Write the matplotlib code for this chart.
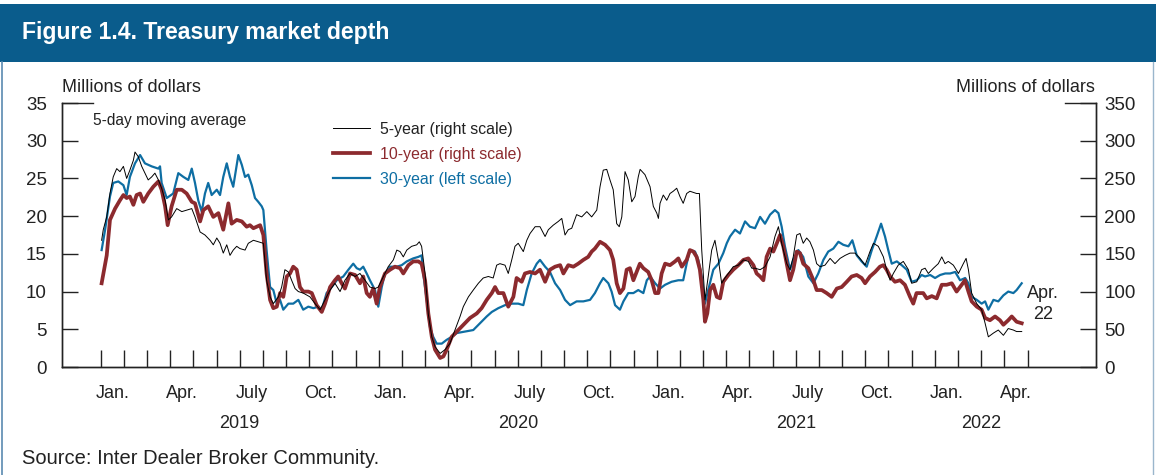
import matplotlib
matplotlib.use("Agg")
import matplotlib.pyplot as plt
from matplotlib.patches import Rectangle
from matplotlib.lines import Line2D
import matplotlib.transforms as mtransforms

# x values: months since 1 Jan 2019
# 5-year, millions of dollars (right scale)
y5 = [(0.04,168),(0.11,182),(0.26,199),(0.40,230),(0.54,252),(0.69,263),(0.83,259),(0.98,266),(1.12,250),(1.26,261),
      (1.41,274),(1.48,285),(1.62,279),(1.77,266),(1.91,257),(2.05,248),(2.20,252),(2.34,257),(2.49,248),(2.63,237),
      (2.78,221),(2.92,195),(3.06,199),(3.28,210),(3.50,206),(3.71,208),(3.93,210),(4.07,199),(4.29,179),(4.50,175),
      (4.72,168),(4.86,162),(5.01,171),(5.15,164),(5.29,151),(5.44,162),(5.58,148),(5.72,155),(5.87,160),(6.01,157),
      (6.23,155),(6.37,164),(6.59,168),(6.80,166),(7.02,164),(7.16,115),(7.31,93),(7.45,84),(7.67,93),(7.81,106),
      (7.95,129),(8.10,126),(8.24,115),(8.39,104),(8.53,100),(8.74,98),(9.03,93),(9.25,84),(9.47,76),(9.68,89),
      (9.90,102),(10.11,111),(10.33,100),(10.54,115),(10.76,124),(10.98,120),(11.19,124),(11.41,115),(11.62,106),(11.84,104),
      (11.98,106),(12.20,120),(12.41,133),(12.63,142),(12.78,155),(12.92,153),(13.06,146),(13.21,155),(13.42,160),(13.64,162),
      (13.75,166),(13.85,160),(14.00,124),(14.14,70),(14.29,40),(14.43,27),(14.65,18),(14.86,23),(15.07,31),(15.29,49),
      (15.51,67),(15.65,80),(15.87,93),(16.08,102),(16.30,111),(16.51,118),(16.73,120),(16.94,118),(17.09,135),(17.23,137),
      (17.45,135),(17.59,124),(17.74,142),(17.88,160),(18.02,164),(18.24,153),(18.39,168),(18.53,177),(18.75,186),(18.96,186),
      (19.18,173),(19.32,182),(19.53,188),(19.75,193),(19.90,197),(20.04,175),(20.18,182),(20.33,184),(20.54,202),(20.76,199),
      (20.98,206),(21.19,199),(21.41,208),(21.55,239),(21.69,261),(21.84,262),(21.98,248),(22.12,235),(22.27,190),(22.38,186),
      (22.49,199),(22.63,259),(22.77,248),(22.92,219),(23.06,226),(23.20,252),(23.28,262),(23.49,255),(23.71,239),(23.85,213),
      (24.00,204),(24.07,197),(24.14,217),(24.28,228),(24.43,221),(24.57,230),(24.71,233),(24.86,237),(25.00,226),(25.14,217),
      (25.29,230),(25.43,233),(25.72,230),(25.84,230),(25.94,155),(26.08,89),(26.22,120),(26.37,155),(26.51,168),(26.66,142),
      (26.80,111),(26.94,118),(27.09,124),(27.30,133),(27.52,135),(27.74,142),(27.95,140),(28.10,131),(28.24,131),(28.46,129),
      (28.67,133),(28.89,146),(29.10,173),(29.25,186),(29.39,164),(29.61,137),(29.75,129),(29.89,146),(30.04,175),(30.18,177),
      (30.32,164),(30.47,171),(30.61,166),(30.76,155),(30.90,137),(31.05,133),(31.26,135),(31.48,144),(31.69,137),(31.91,144),
      (32.13,148),(32.34,151),(32.56,151),(32.77,144),(32.99,135),(33.20,153),(33.35,164),(33.56,160),(33.78,146),(33.92,129),
      (34.07,115),(34.21,124),(34.42,135),(34.64,140),(34.86,129),(35.00,111),(35.22,113),(35.43,129),(35.58,131),(35.72,124),
      (35.94,131),(36.15,137),(36.30,146),(36.44,137),(36.58,140),(36.80,135),(37.02,124),(37.23,137),(37.35,144),(37.45,129),
      (37.59,98),(37.81,84),(38.02,76),(38.17,58),(38.31,40),(38.53,45),(38.74,49),(38.96,42),(39.17,51),(39.39,49),
      (39.53,47),(39.75,47)]

# 10-year, millions of dollars (right scale)
y10 = [(0.04,111),(0.26,148),(0.40,195),(0.62,210),(0.83,221),(0.98,228),(1.12,224),(1.26,226),(1.41,215),(1.55,228),
       (1.70,230),(1.84,219),(2.05,230),(2.27,239),(2.49,246),(2.63,235),(2.78,213),(2.89,188),(3.06,213),(3.28,235),
       (3.50,235),(3.71,230),(3.93,219),(4.07,217),(4.29,193),(4.43,208),(4.64,213),(4.86,199),(5.08,204),(5.29,182),
       (5.51,217),(5.65,190),(5.87,195),(6.09,193),(6.30,186),(6.44,188),(6.59,184),(6.73,186),(6.88,188),(7.02,175),
       (7.16,124),(7.31,89),(7.45,78),(7.60,80),(7.74,98),(7.88,93),(8.03,120),(8.17,124),(8.31,133),(8.46,129),
       (8.60,106),(8.74,100),(8.96,100),(9.11,98),(9.32,82),(9.54,73),(9.68,84),(9.90,106),(10.11,115),(10.25,120),
       (10.40,111),(10.54,104),(10.76,124),(10.98,122),(11.19,111),(11.33,120),(11.48,98),(11.62,93),(11.76,104),(11.91,84),
       (12.05,106),(12.27,124),(12.49,129),(12.70,133),(12.92,131),(13.06,124),(13.28,135),(13.49,140),(13.71,140),(13.85,137),
       (14.00,115),(14.14,71),(14.29,40),(14.43,23),(14.65,12),(14.79,14),(14.93,23),(15.15,40),(15.37,47),(15.65,56),
       (15.94,65),(16.23,71),(16.44,78),(16.66,89),(16.88,98),(17.02,106),(17.16,98),(17.38,98),(17.59,80),(17.81,93),
       (17.95,118),(18.17,113),(18.31,124),(18.53,126),(18.75,124),(18.96,129),(19.18,113),(19.39,129),(19.61,133),(19.83,135),
       (19.97,124),(20.18,135),(20.40,133),(20.61,137),(20.83,142),(21.04,146),(21.19,153),(21.33,157),(21.55,166),(21.77,162),
       (21.98,155),(22.12,142),(22.27,111),(22.41,98),(22.56,104),(22.70,129),(22.84,131),(22.99,115),(23.13,126),(23.27,137),
       (23.42,131),(23.63,126),(23.78,115),(23.93,98),(24.07,98),(24.21,124),(24.36,137),(24.57,135),(24.79,140),(24.93,144),
       (25.08,133),(25.29,142),(25.43,155),(25.58,153),(25.72,146),(25.86,129),(26.01,89),(26.08,60),(26.18,71),(26.30,102),
       (26.44,109),(26.59,93),(26.73,91),(26.87,113),(27.09,122),(27.30,129),(27.52,135),(27.74,142),(27.95,144),(28.17,135),
       (28.31,124),(28.46,120),(28.60,115),(28.74,146),(28.89,157),(29.03,153),(29.18,164),(29.32,175),(29.46,160),(29.61,137),
       (29.75,115),(29.89,129),(30.04,153),(30.18,151),(30.32,137),(30.54,131),(30.76,115),(30.90,102),(31.12,102),(31.33,98),
       (31.55,93),(31.77,104),(31.98,106),(32.20,113),(32.41,120),(32.63,122),(32.84,118),(32.99,111),(33.20,120),(33.42,126),
       (33.63,133),(33.78,135),(33.92,129),(34.07,120),(34.28,113),(34.50,115),(34.71,109),(34.93,93),(35.07,84),(35.21,98),
       (35.50,98),(35.65,91),(35.87,94),(36.08,91),(36.30,109),(36.51,109),(36.73,111),(36.94,100),(37.16,109),(37.30,115),
       (37.45,100),(37.59,87),(37.81,80),(38.02,76),(38.17,65),(38.38,62),(38.60,67),(38.81,62),(38.96,56),(39.17,62),
       (39.32,67),(39.53,60),(39.75,58)]

# 30-year, millions of dollars (left scale)
y30 = [(0.04,15.5),(0.19,18.2),(0.40,22.6),(0.54,24.4),(0.76,24.6),(0.98,24.1),(1.12,22.8),(1.26,25.2),(1.48,27.0),(1.70,28.1),
       (1.91,27.0),(2.20,26.6),(2.49,26.3),(2.56,26.6),(2.63,24.4),(2.85,22.4),(3.13,23.0),(3.35,25.7),(3.57,25.2),(3.78,24.8),
       (3.93,26.3),(4.07,24.4),(4.21,22.1),(4.36,20.6),(4.50,23.0),(4.64,24.4),(4.79,22.8),(5.01,23.5),(5.15,22.8),(5.29,25.2),
       (5.44,27.0),(5.58,25.2),(5.72,23.9),(5.94,28.1),(6.09,26.8),(6.23,25.2),(6.37,25.5),(6.52,24.1),(6.66,22.4),(6.80,21.9),
       (6.95,21.3),(7.02,20.8),(7.16,15.5),(7.31,10.6),(7.45,10.2),(7.60,8.4),(7.74,8.9),(7.88,7.6),(8.10,8.4),(8.31,8.4),
       (8.53,8.9),(8.74,7.6),(8.96,8.0),(9.18,7.8),(9.39,8.0),(9.54,7.6),(9.75,9.8),(9.97,10.6),(10.19,11.5),(10.47,12.0),
       (10.69,12.9),(10.90,13.7),(11.05,13.1),(11.19,12.9),(11.33,13.3),(11.48,12.4),(11.62,11.5),(11.84,10.2),(11.98,8.0),(12.13,10.6),
       (12.27,12.4),(12.49,13.3),(12.78,13.3),(12.99,13.5),(13.21,14.0),(13.49,14.4),(13.71,14.6),(13.85,14.8),(13.92,12.4),(14.07,8.9),
       (14.21,5.3),(14.35,4.0),(14.50,3.1),(14.72,3.1),(14.93,3.6),(15.15,4.0),(15.37,4.5),(15.72,4.7),(16.08,4.9),(16.37,5.8),
       (16.66,6.7),(16.88,7.3),(17.16,7.8),(17.45,8.2),(17.74,8.4),(18.02,8.4),(18.24,8.2),(18.39,10.2),(18.60,12.4),(18.82,13.7),
       (18.96,14.2),(19.18,13.3),(19.39,12.6),(19.61,11.1),(19.83,10.2),(20.04,8.9),(20.26,8.2),(20.54,8.7),(20.83,8.7),(21.12,8.9),
       (21.33,9.8),(21.55,11.1),(21.69,11.8),(21.91,11.1),(22.05,10.0),(22.20,8.2),(22.41,7.6),(22.56,8.7),(22.77,9.8),(22.99,9.8),
       (23.20,10.2),(23.42,9.8),(23.57,11.5),(23.71,12.0),(23.93,11.1),(24.14,10.4),(24.36,10.9),(24.64,11.3),(24.93,11.5),(25.14,11.5),
       (25.29,13.7),(25.43,15.5),(25.65,15.3),(25.79,14.2),(25.94,12.0),(26.08,8.4),(26.22,10.2),(26.44,12.9),(26.66,13.7),(26.87,15.1),
       (27.02,16.4),(27.16,17.3),(27.38,18.2),(27.59,17.7),(27.81,19.3),(28.02,18.6),(28.24,18.4),(28.46,19.9),(28.67,19.0),(28.89,20.2),
       (29.10,20.8),(29.25,20.4),(29.39,18.6),(29.53,16.0),(29.75,12.9),(29.89,14.2),(30.11,15.5),(30.32,14.6),(30.54,12.0),(30.76,11.1),
       (30.97,12.4),(31.19,14.2),(31.40,15.3),(31.62,15.7),(31.84,16.6),(32.05,16.2),(32.27,16.0),(32.44,16.8),(32.63,14.8),(32.84,14.0),
       (33.06,13.3),(33.28,15.5),(33.49,17.3),(33.68,19.0),(33.85,17.3),(33.99,15.5),(34.14,13.7),(34.36,14.0),(34.57,13.5),(34.79,12.9),
       (35.00,11.3),(35.22,11.5),(35.43,12.2),(35.58,12.0),(35.80,12.2),(36.01,11.8),(36.23,12.2),(36.45,12.4),(36.66,12.4),(36.88,12.6),
       (37.09,11.5),(37.31,11.8),(37.45,11.1),(37.59,9.3),(37.81,8.9),(38.02,8.4),(38.17,8.7),(38.31,7.6),(38.53,8.9),(38.74,8.7),
       (38.96,9.5),(39.17,10.0),(39.39,9.8),(39.53,10.2),(39.75,11.1)]

month_names = ["Jan.", "Apr.", "July", "Oct."]
years = ["2019", "2020", "2021", "2022"]
year_centers = [6, 18, 30, 38]
n_months = 40  # Jan 2019 .. Apr 2022

BLUE_HDR = "#0a5c8c"
RED = "#8c2a2e"
BLUE = "#0e6ea3"
INK = "#222222"

plt.rcParams["font.family"] = ["Liberation Sans", "DejaVu Sans"]
W, H = 1156, 475
fig = plt.figure(figsize=(W / 100, H / 100), dpi=100)


def fx(px):
    return px / W


def fy(py):
    return (H - py) / H


# header band and frame
fig.patches.append(Rectangle((0, fy(62)), 1, fy(4) - fy(62), transform=fig.transFigure,
                             facecolor=BLUE_HDR, edgecolor="none"))
fig.lines.append(Line2D([fx(1.5), fx(1.5)], [0, fy(62)], transform=fig.transFigure, color="#5a8ab0", lw=1.2))
fig.lines.append(Line2D([fx(1153), fx(1153)], [0, fy(62)], transform=fig.transFigure, color="#9ab6cc", lw=1.0))
fig.text(fx(22), fy(33), "Figure 1.4. Treasury market depth", color="white", fontsize=16.6,
         fontweight="bold", va="center", ha="left")

ax = fig.add_axes([fx(62), fy(367), fx(1096) - fx(62), fy(103) - fy(367)])
ax2 = ax.twinx()

t30, v30 = zip(*y30)
t10, v10 = zip(*y10)
t5, v5 = zip(*y5)
l30, = ax.plot(t30, v30, color=BLUE, lw=1.6, label="30-year (left scale)", zorder=2)
l10, = ax2.plot(t10, v10, color=RED, lw=2.7, label="10-year (right scale)", zorder=3)
l5, = ax2.plot(t5, v5, color="black", lw=0.7, label="5-year (right scale)", zorder=4)

xmin, xmax = (62 - 100.7) / 23.17, (1096 - 100.7) / 23.17
for a in (ax, ax2):
    a.set_xlim(xmin, xmax)
    a.spines["top"].set_visible(False)
    for s in ("left", "right", "bottom"):
        a.spines[s].set_linewidth(1.0)
        a.spines[s].set_color(INK)
ax.set_ylim(0, 35)
ax2.set_ylim(0, 350)
ax.set_yticks(range(0, 36, 5))
ax2.set_yticks(range(0, 351, 50))
ax.tick_params(axis="y", direction="in", length=11.5, width=1, labelsize=13.5, pad=11, colors=INK)
ax2.tick_params(axis="y", direction="in", length=11.5, width=1, labelsize=13.5, pad=6, colors=INK)
# longer marks at the top of each scale
ax.plot([0, 31 / 1034], [1, 1], transform=ax.transAxes, color=INK, lw=1, clip_on=False)
ax.plot([1 - 31 / 1034, 1], [1, 1], transform=ax.transAxes, color=INK, lw=1, clip_on=False)

ax.set_xticks(range(0, n_months + 1))
ax.set_xticklabels([])
ax.tick_params(axis="x", which="major", direction="in", length=12, width=1, colors=INK)
ax.set_xticks([m + 0.5 for m in range(0, n_months, 3)], minor=True)
ax.set_xticklabels([month_names[(m // 3) % 4] for m in range(0, n_months, 3)], minor=True)
ax.tick_params(axis="x", which="minor", length=0, labelsize=13, pad=13, colors=INK)
ax2.tick_params(axis="x", which="both", length=0)

trans = mtransforms.blended_transform_factory(ax.transData, ax.transAxes)
for yr, c in zip(years, year_centers):
    ax.text(c, -57 / 264, yr, transform=trans, ha="center", va="center", fontsize=13, color=INK)

ax.text(40.67, 8.3, "Apr.\n22", ha="center", va="center", fontsize=13, linespacing=1.3, color=INK)

fig.text(fx(62), fy(88), "Millions of dollars", ha="left", va="center", fontsize=13, color=INK)
fig.text(fx(1095), fy(88), "Millions of dollars", ha="right", va="center", fontsize=13, color=INK)
fig.text(fx(93), fy(120), "5-day moving average", ha="left", va="center", fontsize=11.2, color=INK)

leg = ax2.legend(handles=[l5, l10, l30], loc="upper left", bbox_to_anchor=(fx(333), fy(122)),
                 bbox_transform=fig.transFigure, frameon=False, fontsize=11.4, handlelength=2.35,
                 handletextpad=0.6, labelspacing=0.62, borderpad=0, borderaxespad=0)
for txt, c in zip(leg.get_texts(), [INK, RED, BLUE]):
    txt.set_color(c)

fig.text(fx(22), fy(458), "Source: Inter Dealer Broker Community.", ha="left", va="center", fontsize=14.5,
         color=INK)

fig.savefig("out.png", dpi=100)
